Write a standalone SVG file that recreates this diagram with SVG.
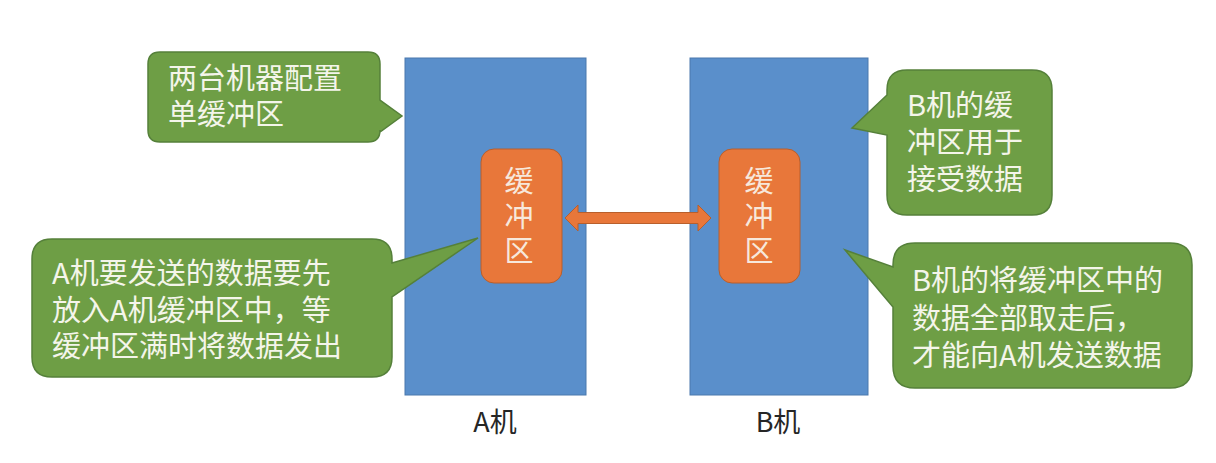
<svg xmlns="http://www.w3.org/2000/svg" width="1216" height="463" viewBox="0 0 1216 463">
<style>
.machine{fill:#5A8FCB;stroke:#4A78AD;stroke-width:1}
.buf{fill:#E8773A;stroke:#B85F2C;stroke-width:1}
.call{fill:#6E9E45;stroke:#55803A;stroke-width:1.5}
.ct{font-family:"Noto Sans CJK SC","Noto Sans",sans-serif;font-size:29px;fill:#F4F5EA}
.bt{font-family:"Noto Sans CJK SC","Noto Sans",sans-serif;font-size:29px;fill:#F7E8DC;writing-mode:vertical-rl;letter-spacing:6px}
.lbl{font-family:"Noto Sans CJK SC","Noto Sans",sans-serif;font-size:27px;fill:#262626;text-anchor:middle}
</style>
<rect width="1216" height="463" fill="#FFFFFF"/>
<g id="machineA">
<rect class="machine" x="405" y="58" width="181" height="337"/>
<text class="lbl" x="495" y="432">A机</text>
</g>
<g id="machineB">
<rect class="machine" x="690" y="58" width="178" height="337"/>
<text class="lbl" x="778" y="432">B机</text>
</g>
<g id="bufferA">
<rect class="buf" x="481" y="149" width="81" height="134" rx="13"/>
<text class="bt" x="519" y="166">缓冲区</text>
</g>
<g id="bufferB">
<rect class="buf" x="719" y="149" width="81" height="134" rx="13"/>
<text class="bt" x="759" y="166">缓冲区</text>
</g>
<g id="connectors">
<path class="buf" d="M565,218 L578,205 L578,212.5 L698,212.5 L698,205 L711,218 L698,231 L698,223.5 L578,223.5 L578,231 Z"/>
</g>
<g id="callout1">
<path class="call" d="M160,52 H368 Q380,52 380,64 V100 L402,116 L380,132 V130 Q380,142 368,142 H160 Q148,142 148,130 V64 Q148,52 160,52 Z"/>
<text class="ct" x="168" y="89">两台机器配置</text>
<text class="ct" x="168" y="125">单缓冲区</text>
</g>
<g id="callout2">
<path class="call" d="M52,239 H372 Q392,239 392,259 V263 L478,238 L392,297 V357 Q392,377 372,377 H52 Q32,377 32,357 V259 Q32,239 52,239 Z"/>
<text class="ct" x="52" y="284">A机要发送的数据要先</text>
<text class="ct" x="52" y="321">放入A机缓冲区中，等</text>
<text class="ct" x="52" y="357">缓冲区满时将数据发出</text>
</g>
<g id="callout3">
<path class="call" d="M907,70 H1032 Q1052,70 1052,90 V195 Q1052,215 1032,215 H907 Q887,215 887,195 V135 L852,128 L887,95 V90 Q887,70 907,70 Z"/>
<text class="ct" x="907" y="116">B机的缓</text>
<text class="ct" x="907" y="153">冲区用于</text>
<text class="ct" x="907" y="190">接受数据</text>
</g>
<g id="callout4">
<path class="call" d="M915,243 H1170 Q1192,243 1192,265 V366 Q1192,388 1170,388 H915 Q893,388 893,366 V307 L845,250 L893,267 V265 Q893,243 915,243 Z"/>
<text class="ct" x="912" y="291">B机的将缓冲区中的</text>
<text class="ct" x="912" y="329">数据全部取走后，</text>
<text class="ct" x="912" y="366">才能向A机发送数据</text>
</g>
</svg>
